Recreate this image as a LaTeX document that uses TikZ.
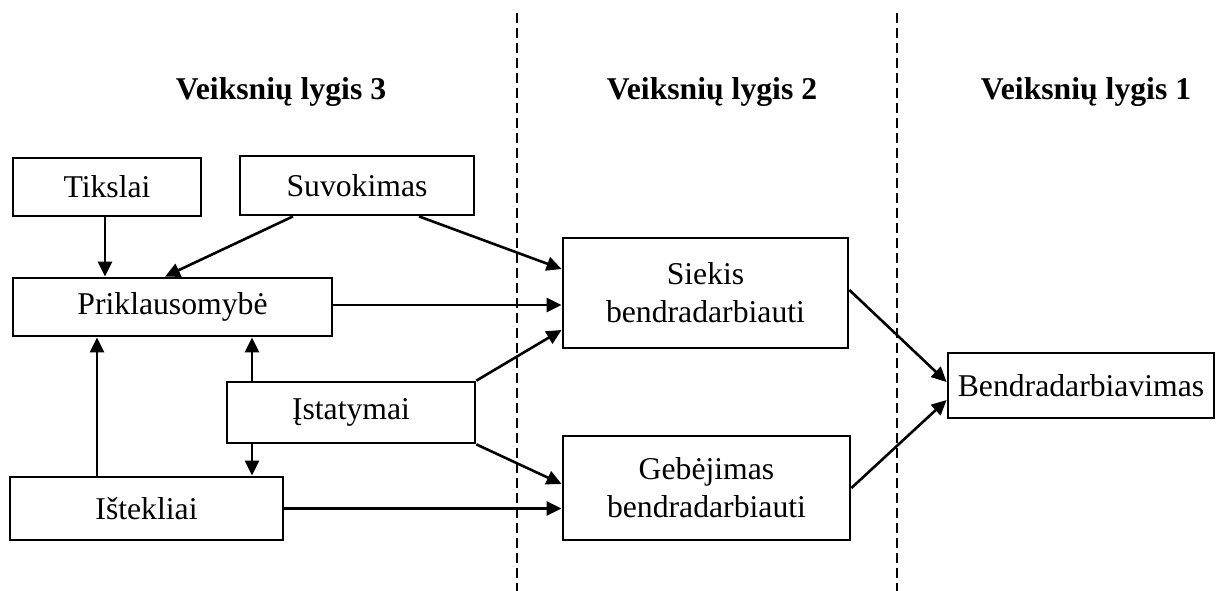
\documentclass[tikz,border=0pt]{standalone}
\usepackage{fontspec}
\setmainfont{Liberation Serif}
\usetikzlibrary{arrows.meta}
\begin{document}
\begin{tikzpicture}[x=1pt,y=-1pt,
  box/.style={draw,line width=2.8pt,inner sep=0pt,align=center,
    font=\fontsize{31.7pt}{38pt}\selectfont},
  title/.style={anchor=base,font=\fontsize{31.7pt}{38pt}\selectfont\bfseries},
  arr/.style={line width=2.6pt,-{Triangle[length=15pt,width=14pt]}},
  divider/.style={line width=1.2pt,dash pattern=on 10pt off 5pt}]
\useasboundingbox (0,0) rectangle (1217,591);

% level dividers
\coordinate (d1t) at (517,13);  \coordinate (d1b) at (517,591);
\coordinate (d2t) at (897,13);  \coordinate (d2b) at (897,591);
\draw[divider] (d1t) -- (d1b);
\draw[divider] (d2t) -- (d2b);

% column titles
\node[title] (t3) at (281,100) {Veiksnių lygis 3};
\node[title] (t2) at (712,100) {Veiksnių lygis 2};
\node[title] (t1) at (1086,100) {Veiksnių lygis 1};

% factor boxes
\node[box,minimum width=188pt,minimum height=58pt] (tik) at (107,187) {Tikslai};
\node[box,minimum width=234pt,minimum height=59pt] (suv) at (357,185.5) {Suvokimas};
\node[box,minimum width=319pt,minimum height=58pt] (prik) at (172.5,307) {Priklausomybė};
\node[box,minimum width=248pt,minimum height=61pt] (ist) at (351,412.5) {Įstatymai};
\node[box,minimum width=273pt,minimum height=63pt] (isk) at (146.5,508.5) {Ištekliai};
\node[box,minimum width=285pt,minimum height=110pt] (sie) at (705.5,293) {Siekis\\bendradarbiauti};
\node[box,minimum width=287pt,minimum height=104pt] (geb) at (706.5,488) {Gebėjimas\\bendradarbiauti};
\node[box,minimum width=266pt,minimum height=65pt] (ben) at (1081,385.5) {Bendradarbiavimas};

% level 3 connections
\draw[arr] ([xshift=-2pt]tik.south) -- ([xshift=-2pt]tik.south |- prik.north);
\draw[arr] ([xshift=-64pt]suv.south) -- ([xshift=-7.5pt]prik.north);
\draw[arr] ([xshift=-49.5pt]isk.north) -- ([xshift=-49.5pt]isk.north |- prik.south);
\draw[arr] ([xshift=-99pt]ist.north) -- ([xshift=-99pt]ist.north |- prik.south);
\draw[arr] ([xshift=-99pt]ist.south) -- ([xshift=-99pt]ist.south |- isk.north);

% level 3 to level 2
\draw[arr] ([xshift=62pt]suv.south) -- ([yshift=24pt]sie.west);
\draw[arr] ([yshift=2pt]prik.east) -- ([yshift=2pt]prik.east -| sie.west);
\draw[arr] (ist.north east) -- ([yshift=-37pt]sie.west);
\draw[arr] (ist.south east) -- ([yshift=4pt]geb.west);
\draw[arr] (isk.east) -- (isk.east -| geb.west);

% level 2 to level 1
\draw[arr] ([yshift=3pt]sie.east) -- ([yshift=3.5pt]ben.west);
\draw[arr] (geb.east) -- ([yshift=-14.5pt]ben.west);
\end{tikzpicture}
\end{document}
